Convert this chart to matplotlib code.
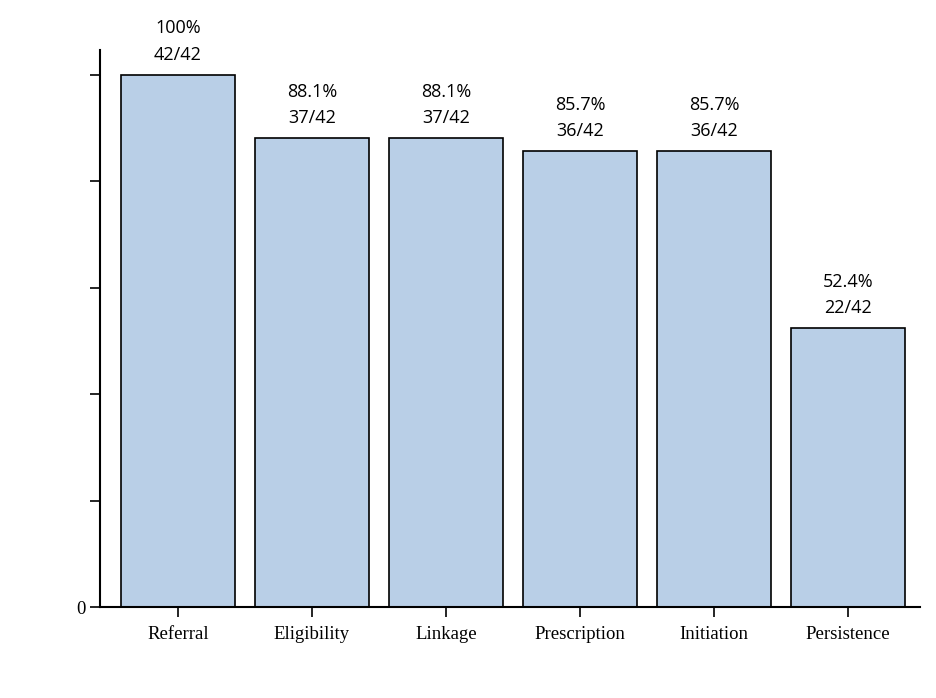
import numpy as np
import matplotlib
matplotlib.use('Agg')
import matplotlib.pyplot as plt

# cascade steps and values
steps = ['Referral', 'Eligibility', 'Linkage', 'Prescription', 'Initiation', 'Persistence']
pct = [100, 88.1, 88.1, 85.7, 85.7, 52.4]
counts = [42, 37, 37, 36, 36, 22]
total = 42
yticks = [0, 20, 40, 60, 80, 100]


def main():
    fig = plt.figure(figsize=(9.36, 6.98), dpi=100)
    ax = fig.add_axes([100 / 936, 91 / 698, 820 / 936, 557 / 698])

    x = np.arange(len(steps))
    ax.bar(x, pct, width=0.85, color='#B9CFE7', edgecolor='black', linewidth=1.2, zorder=2)

    # labels above bars: percent and count
    for xi, p, c in zip(x, pct, counts):
        txt = f'{p:g}%\n{c}/{total}'
        ax.annotate(txt, (xi, p), xytext=(0, 8), textcoords='offset points',
                    ha='center', va='bottom', fontsize=13, family='Open Sans',
                    linespacing=1.6, color='black')

    ax.set_xlim(-0.582, 5.537)
    ax.set_ylim(0, 104.7)
    ax.set_xticks(x)
    ax.set_xticklabels(steps, family='Liberation Serif', fontsize=13.5)
    ax.set_yticks(yticks)
    ax.set_yticklabels(['0'] + [''] * (len(yticks) - 1), family='Liberation Serif', fontsize=13.5)

    for s in ['top', 'right']:
        ax.spines[s].set_visible(False)
    for s in ['left', 'bottom']:
        ax.spines[s].set_linewidth(1.5)
    ax.tick_params(axis='both', direction='out', length=7, width=1.2)
    ax.tick_params(axis='x', pad=7)
    ax.tick_params(axis='y', pad=3)

    fig.savefig('out.png', dpi=100)
    plt.close(fig)


if __name__ == '__main__':
    main()
